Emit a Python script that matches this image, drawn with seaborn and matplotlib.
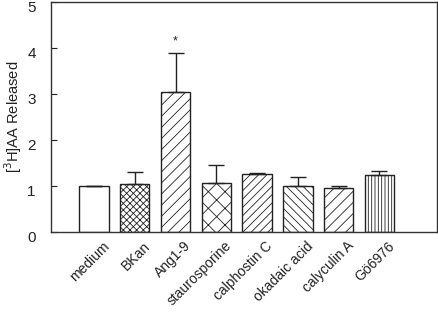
import numpy as np
import pandas as pd
import matplotlib
matplotlib.use('Agg')
import matplotlib.pyplot as plt
import matplotlib.transforms as mtransforms
import seaborn as sns

treatments = ['medium', 'BKan', 'Ang1-9', 'staurosporine', 'calphostin C',
              'okadaic acid', 'calyculin A', 'Gö6976']
released = [1.00, 1.05, 3.04, 1.06, 1.26, 1.01, 0.95, 1.25]
sem = [0.00, 0.26, 0.85, 0.39, 0.03, 0.19, 0.04, 0.07]
hatches = ['', 'xxxxx', '///', 'xx', '////', '\\\\\\\\', '///', '|||||']

sns.set_style('white')
plt.rcParams['font.family'] = ['Liberation Sans', 'DejaVu Sans']
plt.rcParams['hatch.linewidth'] = 0.6

df = pd.DataFrame({'treatment': treatments, 'released': released})

fig = plt.figure(figsize=(4.38, 3.19), dpi=100)
ax = fig.add_axes([0.1164, 0.2727, 0.8813, 0.721])

sns.barplot(data=df, x='treatment', y='released', color='white',
            edgecolor='#222222', linewidth=1.0, width=0.72, ax=ax)
for bar, h in zip(ax.patches, hatches):
    bar.set_hatch(h)
    bar.set_facecolor('white')

x = np.arange(len(treatments))
ax.errorbar(x, released, yerr=[np.zeros(len(sem)), sem], fmt='none',
            ecolor='#222222', elinewidth=1.0, capsize=5.5, capthick=1.0)

# significance marker
ax.text(x[2], released[2] + sem[2] + 0.12, '*', ha='center', va='bottom',
        fontsize=9, color='#222222')

ax.set_xlim(-1.054, 8.41)
ax.set_ylim(0, 5)
ax.set_yticks([0, 1, 2, 3, 4, 5])
ax.set_xlabel('')
ax.set_ylabel(r'[$^{3}$H]AA Released', fontsize=10.5, color='#222222',
              labelpad=2)
ax.tick_params(axis='y', direction='in', length=4, width=0.8, labelsize=11,
               left=True, colors='#222222', pad=11)
ax.tick_params(axis='x', length=0, labelsize=10, colors='#222222')
ax.set_xticks(x)
ax.set_xticklabels(treatments, rotation=45, ha='right', rotation_mode='anchor')
xoff = mtransforms.ScaledTranslation(8 / 100, -2 / 100, fig.dpi_scale_trans)
for lab in ax.get_xticklabels():
    lab.set_transform(lab.get_transform() + xoff)
yoff = mtransforms.ScaledTranslation(0, -4 / 100, fig.dpi_scale_trans)
for lab in ax.get_yticklabels():
    lab.set_transform(lab.get_transform() + yoff)

for s in ax.spines.values():
    s.set_color('#333333')
    s.set_linewidth(1.0)

fig.savefig('out.png', dpi=100)
